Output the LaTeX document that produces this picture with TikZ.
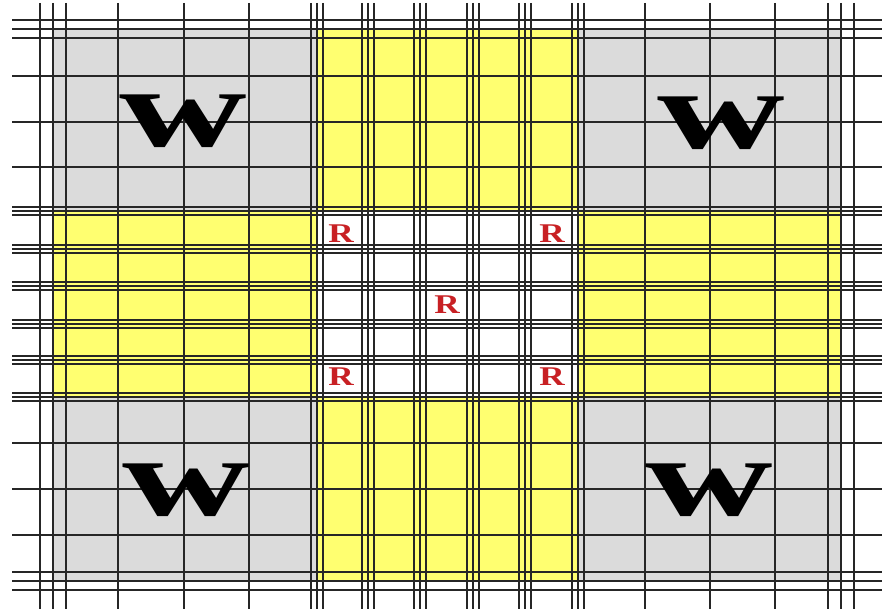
\documentclass[tikz,border=0pt]{standalone}
\usepackage{graphicx,xcolor}
\usepackage{fontspec}
\setmainfont{Liberation Serif}
\definecolor{roadgray}{RGB}{219,219,219}
\definecolor{bandyellow}{RGB}{255,255,112}
\definecolor{markred}{RGB}{200,32,36}

\begin{document}
\begin{tikzpicture}[x=0.01cm, y=-0.01cm,
  gridline/.style={line width=0.6pt, black!85},
  wlabel/.style={font=\fontsize{32}{32}\selectfont\bfseries, inner sep=0pt},
  rlabel/.style={font=\fontsize{7.7}{8}\selectfont\bfseries, text=markred, inner sep=0pt}]
  \useasboundingbox (0,0) rectangle (884,613);

  % Gray ground and yellow bands
  \fill[roadgray] (53,29) rectangle (841,581);
  \fill[bandyellow] (317,29) rectangle (578,581);
  \fill[bandyellow] (53,211) rectangle (841,397);
  \fill[white] (317,211) rectangle (578,397);

  % Horizontal lines
  \foreach \y in {76,122,167,443,489,535}
    \draw[gridline] (12,\y) -- (882,\y);
  \foreach \y in {29,581}
    \foreach \d in {-9,0,9}
      \draw[gridline] (12,\y+\d) -- (882,\y+\d);
  \foreach \y in {211,249,286,324,360,397}
    \foreach \d in {-4,0,4}
      \draw[gridline] (12,\y+\d) -- (882,\y+\d);

  % Vertical lines
  \foreach \x in {118,184,249,645,710,775}
    \draw[gridline] (\x,3) -- (\x,609);
  \foreach \x in {53,841}
    \foreach \d in {-13,0,13}
      \draw[gridline] (\x+\d,3) -- (\x+\d,609);
  \foreach \x in {317,368,420,473,525,578}
    \foreach \d in {-6,0,6}
      \draw[gridline] (\x+\d,3) -- (\x+\d,609);

  % W blocks
  \node[wlabel] (wTL) at (183,121) {\scalebox{1.57}[1]{w}};
  \node[wlabel] (wTR) at (721,123) {\scalebox{1.57}[1]{w}};
  \node[wlabel] (wBL) at (186,490) {\scalebox{1.57}[1]{w}};
  \node[wlabel] (wBR) at (709,490) {\scalebox{1.57}[1]{w}};

  % R marks
  \node[rlabel] (rTL) at (341,234) {\scalebox{1.3}[1]{R}};
  \node[rlabel] (rTR) at (552,234) {\scalebox{1.3}[1]{R}};
  \node[rlabel] (rC) at (447,305) {\scalebox{1.3}[1]{R}};
  \node[rlabel] (rBL) at (341,377) {\scalebox{1.3}[1]{R}};
  \node[rlabel] (rBR) at (552,377) {\scalebox{1.3}[1]{R}};
\end{tikzpicture}
\end{document}
